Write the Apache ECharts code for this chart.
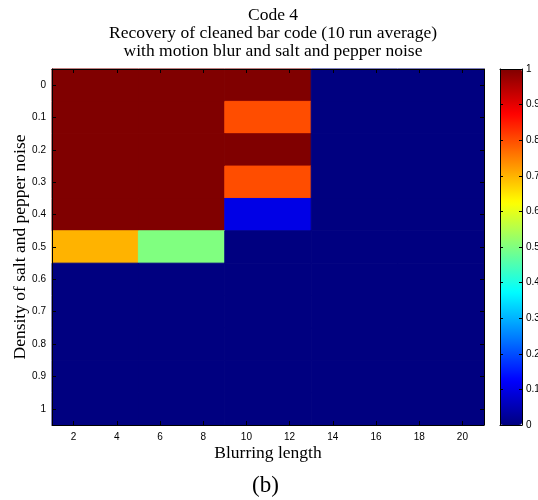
<!DOCTYPE html>
<html lang="en">
  <head>
    <meta charset="UTF-8" />
    <title>Code 4</title>
    <script src="https://cdn.jsdelivr.net/npm/echarts@6.0.0/dist/echarts.min.js"></script>
    <style>
      body { margin: 0; background: #fff; }
    </style>
  </head>
  <body>
    <div id="main" style="width: 538px; height: 500px"></div>
  </body>
  <script>
    // blur lengths (column centres) and noise densities (rows)
    const blurLengths = [3, 7, 11, 15, 19];
    const noiseDensity = [0, 0.1, 0.2, 0.3, 0.4, 0.5, 0.6, 0.7, 0.8, 0.9, 1];
    // recovery rate, one row per noise density
    const recovery = [
      [1, 1, 1, 0, 0],
      [1, 1, 0.8, 0, 0],
      [1, 1, 1, 0, 0],
      [1, 1, 0.8, 0, 0],
      [1, 1, 0.1, 0, 0],
      [0.7, 0.5, 0, 0, 0],
      [0, 0, 0, 0, 0],
      [0, 0, 0, 0, 0],
      [0, 0, 0, 0, 0],
      [0, 0, 0, 0, 0],
      [0, 0, 0, 0, 0],
    ];
    const xTicks = [2, 4, 6, 8, 10, 12, 14, 16, 18, 20];
    const yTicks = [0, 0.1, 0.2, 0.3, 0.4, 0.5, 0.6, 0.7, 0.8, 0.9, 1];
    const cbTicks = [0, 0.1, 0.2, 0.3, 0.4, 0.5, 0.6, 0.7, 0.8, 0.9, 1];

    const jet = ["#000080", "#0000ff", "#0080ff", "#00ffff", "#80ff80",
                 "#ffff00", "#ff8000", "#ff0000", "#800000"];

    const cells = [];
    noiseDensity.forEach((d, i) => {
      blurLengths.forEach((b, j) => cells.push([b, d, recovery[i][j]]));
    });

    const sans = "Liberation Sans";
    const serif = "Liberation Serif";

    function boxAxis(extra) {
      return Object.assign({
        type: "value",
        z: 10,
        axisLine: { show: true, onZero: false, lineStyle: { color: "#000", width: 1 } },
        axisTick: { show: false },
        axisLabel: { show: false },
        splitLine: { show: false },
      }, extra);
    }

    var myChart = echarts.init(document.getElementById("main"));

    var option = {
      animation: false,
      title: {
        text: "Code 4\nRecovery of cleaned bar code (10 run average)\nwith motion blur and salt and pepper noise",
        left: 268,
        textAlign: "center",
        top: 1,
        textStyle: { fontFamily: serif, fontSize: 17.5, fontWeight: "normal", color: "#000", lineHeight: 18 },
      },
      graphic: [
        {
          type: "text",
          left: 252,
          top: 474,
          style: { text: "(b)", fontFamily: serif, fontSize: 23, fill: "#000" },
        },
      ],
      grid: [
        { left: 52, right: 54, top: 69, bottom: 75, outerBoundsMode: "none", containLabel: false },
        { left: 500, width: 22, top: 69, height: 356, outerBoundsMode: "none", containLabel: false },
      ],
      xAxis: [
        boxAxis({
          gridIndex: 0, position: "bottom", min: 1, max: 21,
          name: "Blurring length", nameLocation: "middle", nameGap: 19, nameMoveOverlap: false,
          nameTextStyle: { fontFamily: serif, fontSize: 17.5, color: "#000" },
          axisTick: { show: true, inside: true, length: 4, customValues: xTicks, lineStyle: { color: "#000" } },
          axisLabel: { show: true, margin: 7, customValues: xTicks, fontFamily: sans, fontSize: 10, color: "#000" },
        }),
        boxAxis({
          gridIndex: 0, position: "top", min: 1, max: 21,
          axisTick: { show: true, inside: true, length: 4, customValues: xTicks, lineStyle: { color: "#000" } },
        }),
        boxAxis({ gridIndex: 1, position: "bottom", min: 0, max: 1 }),
        boxAxis({ gridIndex: 1, position: "top", min: 0, max: 1 }),
      ],
      yAxis: [
        boxAxis({
          gridIndex: 0, position: "left", min: -0.05, max: 1.05, inverse: true,
          name: "Density of salt and pepper noise", nameLocation: "middle", nameGap: 23, nameRotate: 90,
          nameMoveOverlap: false,
          nameTextStyle: { fontFamily: serif, fontSize: 17.5, color: "#000" },
          axisTick: { show: true, inside: true, length: 4, customValues: yTicks, lineStyle: { color: "#000" } },
          axisLabel: { show: true, margin: 6, customValues: yTicks, fontFamily: sans, fontSize: 10, color: "#000" },
        }),
        boxAxis({
          gridIndex: 0, position: "right", min: -0.05, max: 1.05, inverse: true,
          axisTick: { show: true, inside: true, length: 4, customValues: yTicks, lineStyle: { color: "#000" } },
        }),
        boxAxis({
          gridIndex: 1, position: "right", min: 0, max: 1,
          axisTick: { show: true, inside: true, length: 3, customValues: cbTicks, lineStyle: { color: "#000" } },
          axisLabel: { show: true, inside: false, margin: 4, customValues: cbTicks, fontFamily: sans, fontSize: 10, color: "#000" },
        }),
        boxAxis({
          gridIndex: 1, position: "left", min: 0, max: 1,
          axisTick: { show: true, inside: true, length: 3, customValues: cbTicks, lineStyle: { color: "#000" } },
        }),
      ],
      visualMap: {
        type: "continuous",
        min: 0,
        max: 1,
        seriesIndex: 0,
        dimension: 2,
        left: 500,
        top: 69,
        itemWidth: 22,
        itemHeight: 356,
        padding: 0,
        text: null,
        calculable: false,
        hoverLink: false,
        z: 1,
        inRange: { color: jet },
      },
      series: [
        {
          type: "custom",
          xAxisIndex: 0,
          yAxisIndex: 0,
          data: cells,
          renderItem: function (params, api) {
            const x = api.value(0), y = api.value(1);
            const p1 = api.coord([x - 2, y - 0.05]);
            const p2 = api.coord([x + 2, y + 0.05]);
            const c = api.visual("color");
            return {
              type: "rect",
              shape: {
                x: Math.min(p1[0], p2[0]),
                y: Math.min(p1[1], p2[1]),
                width: Math.abs(p2[0] - p1[0]),
                height: Math.abs(p2[1] - p1[1]),
              },
              style: { fill: c, stroke: c, lineWidth: 1 },
            };
          },
        },
      ],
    };

    myChart.setOption(option);
  </script>
</html>
